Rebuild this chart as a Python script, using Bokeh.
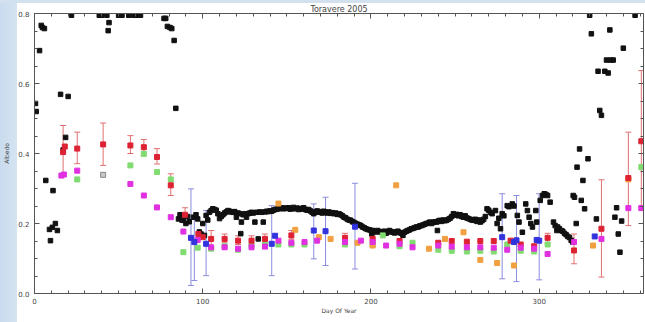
from bokeh.plotting import figure
from bokeh.models import (Range1d, LinearAxis, SingleIntervalTicker, FixedTicker, Whisker, TeeHead,
                          ColumnDataSource, PrintfTickFormatter)
from bokeh.embed import file_html
from bokeh.resources import INLINE

# ---------------- data ----------------
black_day = [0.6, 1.0, 3, 4, 4.7, 5.9, 6.7, 8.9, 9.5, 10.6, 11, 12.4, 13.6, 15.5, 17, 18.5, 20, 22,
             38.5, 40, 43, 43.8, 44.3, 50, 52, 56, 59, 61, 63, 77, 78, 79, 80.5, 81.6, 83, 84,
             85.6, 86.5, 87.6, 88.5, 90, 91, 92, 94.5, 96, 97, 98, 99, 100, 101, 102, 103, 104, 105,
             106, 107, 108, 109, 110, 111, 112,
             113, 114, 115, 116, 117, 118, 119, 120, 121, 122, 122.6, 123, 124, 125, 126, 127, 128,
             129, 130, 131, 132, 133, 134, 135, 136, 137, 138, 139, 140, 141, 142, 143, 144, 145,
             146, 147, 148, 149, 150, 151, 152, 153, 154, 155, 156, 157, 158, 159, 160, 161, 162,
             163, 164, 165,
             166, 167, 168, 169, 170, 171, 172, 173, 174, 175, 176, 177, 178, 179, 180, 181, 182,
             183, 184, 185, 186, 187, 188, 189, 190, 191, 192, 193, 194, 195, 196, 197, 198, 199,
             200, 200.5,
             201, 202, 203, 204, 205, 206, 207, 208, 209, 210, 211, 212, 213, 214, 215, 216, 217,
             218, 219, 220,
             221, 222, 223, 224, 225, 226, 227, 228, 229, 230, 231, 232, 233, 234, 235, 236, 237,
             238, 239, 239.5, 240, 241, 242, 243, 244, 245, 246, 247, 248, 249, 250,
             251, 252, 253, 254, 255, 256, 257, 258, 259, 260, 261, 262, 263, 264, 265, 266, 267, 268,
             269, 270, 271, 272, 274, 275, 276, 277, 278, 279, 281, 282, 284, 285, 287, 288, 290,
             292, 293, 294, 295, 296, 298, 298.5, 300.6, 302, 303, 304, 305, 306.5, 308.5, 309.5,
             310.5, 311, 312, 313, 314, 315, 316, 317, 318, 319, 320,
             320.2, 321, 322, 322.5, 324, 325, 326, 327, 329, 330, 331, 334, 335, 336, 337, 339,
             340, 341, 342, 342.5, 344, 345, 346, 347, 348, 349, 350, 357]
black_alb = [0.543, 0.52, 0.694, 0.766, 0.76, 0.757, 0.323, 0.183, 0.151, 0.189, 0.294, 0.2, 0.18,
             0.569, 0.41, 0.446, 0.563, 0.795,
             0.795, 0.795, 0.795, 0.751, 0.774, 0.795, 0.795, 0.795, 0.795, 0.795, 0.795, 0.786,
             0.786, 0.763, 0.76, 0.757, 0.723, 0.529,
             0.213, 0.225, 0.21, 0.209, 0.2, 0.22, 0.205, 0.218, 0.225, 0.213, 0.176, 0.17, 0.2,
             0.166, 0.223, 0.21, 0.232, 0.237, 0.242, 0.24, 0.238, 0.228, 0.214, 0.22, 0.225,
             0.23, 0.233, 0.237, 0.235, 0.233, 0.232, 0.234, 0.218, 0.23, 0.228, 0.171, 0.204,
             0.225, 0.228, 0.218, 0.228, 0.23, 0.232, 0.23, 0.204, 0.232, 0.156, 0.233, 0.232,
             0.204, 0.233, 0.235, 0.234, 0.236, 0.235, 0.238, 0.24, 0.241, 0.242,
             0.243, 0.245, 0.242, 0.244, 0.243, 0.245, 0.241, 0.243, 0.246, 0.242, 0.244, 0.24,
             0.243, 0.241, 0.245, 0.24, 0.238, 0.24, 0.236, 0.232,
             0.228, 0.233, 0.236, 0.232, 0.234, 0.23, 0.235, 0.232, 0.23, 0.233, 0.229, 0.231,
             0.228, 0.23, 0.226, 0.228, 0.225,
             0.222, 0.218, 0.216, 0.212, 0.21, 0.209, 0.205, 0.203, 0.2, 0.198, 0.196, 0.194, 0.19,
             0.188, 0.185, 0.183, 0.182, 0.18, 0.17,
             0.18, 0.178, 0.176, 0.18, 0.177, 0.175, 0.175, 0.178, 0.172, 0.176, 0.18, 0.177, 0.175,
             0.173, 0.176, 0.178, 0.174, 0.172, 0.166, 0.175,
             0.178, 0.18, 0.182, 0.185, 0.186, 0.188, 0.19, 0.19, 0.193, 0.194, 0.196, 0.198, 0.2,
             0.201, 0.204, 0.2, 0.203, 0.205, 0.204, 0.18, 0.207, 0.209, 0.206, 0.21, 0.208, 0.209,
             0.212, 0.215, 0.22, 0.228, 0.224,
             0.226, 0.222, 0.225, 0.22, 0.218, 0.222, 0.216, 0.214, 0.212, 0.21, 0.209, 0.212,
             0.206, 0.21, 0.204, 0.208, 0.212, 0.22,
             0.242, 0.238, 0.232, 0.228, 0.237, 0.2, 0.215, 0.185, 0.228, 0.222, 0.251, 0.248,
             0.256, 0.25, 0.223, 0.204, 0.175, 0.256, 0.237, 0.218, 0.2, 0.19, 0.237, 0.204, 0.266,
             0.28, 0.285, 0.283, 0.28, 0.261, 0.204, 0.194,
             0.18, 0.19, 0.185, 0.18, 0.178, 0.172, 0.168, 0.163, 0.16, 0.152, 0.147,
             0.28, 0.275, 0.2, 0.361, 0.413, 0.266, 0.323, 0.242, 0.385, 0.795, 0.742, 0.213,
             0.635, 0.523, 0.509, 0.635, 0.667, 0.63, 0.753, 0.667, 0.667, 0.218, 0.245, 0.17,
             0.118, 0.207, 0.701, 0.795]

red_day = [17, 18, 25.4, 40.8, 57, 65, 72.8, 81, 89.5, 97.4, 100, 105, 113, 121, 129, 137, 152.7,
           184.6, 201, 217, 240, 248, 257, 265, 273, 283, 289, 297, 305, 320.7, 337, 353, 360.7]
red_alb = [0.404, 0.42, 0.414, 0.426, 0.423, 0.418, 0.39, 0.309, 0.225, 0.17, 0.161, 0.156, 0.156,
           0.151, 0.151, 0.156, 0.166, 0.159, 0.156, 0.15, 0.145, 0.15, 0.148, 0.15, 0.15, 0.151,
           0.14, 0.135, 0.159, 0.123, 0.185, 0.33, 0.435]
red_err_day = [17, 25.4, 40.8, 57, 65, 72.8, 81, 89.5, 105, 113, 121, 129, 137, 152.7, 184.6, 201,
               305, 320.7, 337, 353, 360.7]
red_err_lo = [0.337, 0.371, 0.366, 0.4, 0.394, 0.37, 0.28, 0.205, 0.13, 0.145, 0.14, 0.14, 0.145,
              0.155, 0.148, 0.145, 0.145, 0.085, 0.047, 0.194, 0.246]
red_err_hi = [0.48, 0.461, 0.487, 0.451, 0.44, 0.414, 0.342, 0.245, 0.18, 0.17, 0.165, 0.165, 0.17,
              0.18, 0.172, 0.168, 0.172, 0.17, 0.325, 0.461, 0.637]

blue_day = [93, 95, 102, 141, 143, 166, 173, 190.5, 278, 285, 286.5, 298.5, 300, 333]
blue_alb = [0.159, 0.147, 0.142, 0.142, 0.165, 0.18, 0.178, 0.191, 0.161, 0.147, 0.152, 0.153,
            0.151, 0.163]
blue_err_day = [93, 95, 102, 141, 166, 173, 190.5, 278, 286.5, 300]
blue_err_lo = [0.023, 0.037, 0.051, 0.051, 0.099, 0.08, 0.07, 0.042, 0.034, 0.039]
blue_err_hi = [0.299, 0.22, 0.237, 0.251, 0.256, 0.275, 0.315, 0.285, 0.28, 0.285]

green_day = [25.4, 57, 65, 72.8, 81, 88.5, 97, 105, 113, 121, 129, 137, 145, 152.7, 160.5, 184.6,
             201, 207, 217, 224.7, 240, 248, 257, 265, 273, 281, 289, 297, 305, 360.7]
green_alb = [0.326, 0.366, 0.399, 0.347, 0.326, 0.118, 0.131, 0.128, 0.135, 0.125, 0.138, 0.14,
             0.14, 0.14, 0.14, 0.14, 0.14, 0.166, 0.135, 0.145, 0.125, 0.122, 0.12, 0.122, 0.12,
             0.14, 0.122, 0.12, 0.14, 0.361]

magenta_day = [16, 17.5, 25.4, 57, 65, 72.8, 81, 88.5, 97, 105, 113, 121, 129, 137, 145, 152.7,
               160.5, 168, 184.6, 194, 201, 209, 217, 224.7, 240, 248, 257, 265, 273, 281, 289, 297,
               305, 320.7, 337, 353, 360.7]
magenta_alb = [0.337, 0.34, 0.351, 0.313, 0.28, 0.246, 0.218, 0.177, 0.153, 0.132, 0.132, 0.128,
               0.132, 0.134, 0.151, 0.145, 0.147, 0.151, 0.147, 0.151, 0.147, 0.137, 0.142, 0.132,
               0.137, 0.134, 0.132, 0.132, 0.131, 0.125, 0.131, 0.128, 0.113, 0.147, 0.156, 0.244,
               0.244]

orange_day = [145, 155, 169, 176, 192, 201, 215, 234.5, 244, 255, 265, 275, 285, 332, 353]
orange_alb = [0.257, 0.182, 0.161, 0.156, 0.145, 0.137, 0.309, 0.128, 0.156, 0.175, 0.096, 0.087,
              0.08, 0.137, 0.326]

gray_day = [40.8]
gray_alb = [0.339]

x_max = 362
y_max = 0.8
x_major_step = 100
x_minor_step = 10
y_major_step = 0.2
y_minor_step = 0.05

# ---------------- figure ----------------
p = figure(width=645, height=322, output_backend="svg", toolbar_location=None,
           x_range=Range1d(0, x_max), y_range=Range1d(0, y_max),
           min_border_left=32, min_border_right=2, min_border_top=13, min_border_bottom=29,
           background_fill_color="white", border_fill_color=None, outline_line_color=None)
p.styles = {"background": "linear-gradient(to bottom, #d3e1ef 0px, #d3e1ef 3px, rgba(255,255,255,0) 3px), "
                          "linear-gradient(to right, #c9dbee 0px, #d6e4f1 17px, #ffffff 17px)"}
p.xgrid.visible = False
p.ygrid.visible = False

axcol = "#555555"
font = "DejaVu Sans"

p.title.text = "Toravere 2005"
p.title.align = "center"
p.title.text_font = font
p.title.text_font_size = "8px"
p.title.text_font_style = "normal"
p.title.text_color = "#444444"
p.title.offset = 0
p.title.standoff = 0


def style_axis(ax, label_standoff, title_standoff):
    ax.axis_line_color = axcol
    ax.axis_line_width = 1
    ax.major_tick_in = 5
    ax.major_tick_out = 0
    ax.minor_tick_in = 3
    ax.minor_tick_out = 0
    ax.major_tick_line_color = axcol
    ax.minor_tick_line_color = axcol
    ax.major_label_text_font = font
    ax.major_label_text_color = "#444444"
    ax.major_label_text_font_size = "7px"
    ax.major_label_standoff = label_standoff
    ax.axis_label_text_font = font
    ax.axis_label_text_font_size = "6px"
    ax.axis_label_text_font_style = "normal"
    ax.axis_label_text_color = "#444444"
    ax.axis_label_standoff = title_standoff


p.xaxis.ticker = SingleIntervalTicker(interval=x_major_step, num_minor_ticks=10)
p.yaxis.ticker = SingleIntervalTicker(interval=y_major_step, num_minor_ticks=4)
p.xaxis.axis_label = "Day Of Year"
p.yaxis.axis_label = "Albedo"
p.yaxis.formatter = PrintfTickFormatter(format="%.1f")
for ax in p.xaxis:
    style_axis(ax, 4, 0)
for ax in p.yaxis:
    style_axis(ax, 5, 5)

# top / right frame ticks without labels: major ticks drawn as long "minor" ticks
x_major_pos = list(range(0, x_max + 1, x_major_step))
x_minor_pos = list(range(0, x_max + 1, x_minor_step))
y_major_pos = [i * y_major_step for i in range(int(round(y_max / y_major_step)) + 1)]
y_minor_pos = [i * y_minor_step for i in range(int(round(y_max / y_minor_step)) + 1)]

for side, majors, minors in (("above", x_major_pos, x_minor_pos), ("right", y_major_pos, y_minor_pos)):
    for pos, ln in ((minors, 3), (majors, 5)):
        ax = LinearAxis(ticker=FixedTicker(ticks=[], minor_ticks=pos))
        ax.axis_line_color = axcol
        ax.minor_tick_in = ln
        ax.minor_tick_out = 0
        ax.major_tick_in = 0
        ax.major_tick_out = 0
        ax.minor_tick_line_color = axcol
        ax.major_tick_line_color = None
        ax.major_label_standoff = 0
        ax.major_label_text_font_size = "7px"
        p.add_layout(ax, side)

# ---------------- marks ----------------
p.scatter(black_day, black_alb, marker="square", size=4.5, color="#111111")

rsrc = ColumnDataSource(dict(x=red_err_day, lo=red_err_lo, hi=red_err_hi))
p.add_layout(Whisker(base="x", lower="lo", upper="hi", source=rsrc, dimension="height",
                     line_color="#e07070", line_width=1,
                     lower_head=TeeHead(size=6, line_color="#e07070", line_width=1),
                     upper_head=TeeHead(size=6, line_color="#e07070", line_width=1)))
bsrc = ColumnDataSource(dict(x=blue_err_day, lo=blue_err_lo, hi=blue_err_hi))
p.add_layout(Whisker(base="x", lower="lo", upper="hi", source=bsrc, dimension="height",
                     line_color="#8c8ce0", line_width=1,
                     lower_head=TeeHead(size=6, line_color="#8c8ce0", line_width=1),
                     upper_head=TeeHead(size=6, line_color="#8c8ce0", line_width=1)))

ms = 5
p.scatter(gray_day, gray_alb, marker="square", size=ms, fill_color="#c8c8c8", line_color="#888888")
p.scatter(green_day, green_alb, marker="square", size=ms, color="#80dc70")
p.scatter(orange_day, orange_alb, marker="square", size=ms, color="#f0a040")
p.scatter(red_day, red_alb, marker="square", size=ms, color="#dd2233")
p.scatter(magenta_day, magenta_alb, marker="square", size=ms, color="#e030e0")
p.scatter(blue_day, blue_alb, marker="square", size=ms, color="#3333dd")

open("out.html", "w").write(file_html(p, INLINE))
